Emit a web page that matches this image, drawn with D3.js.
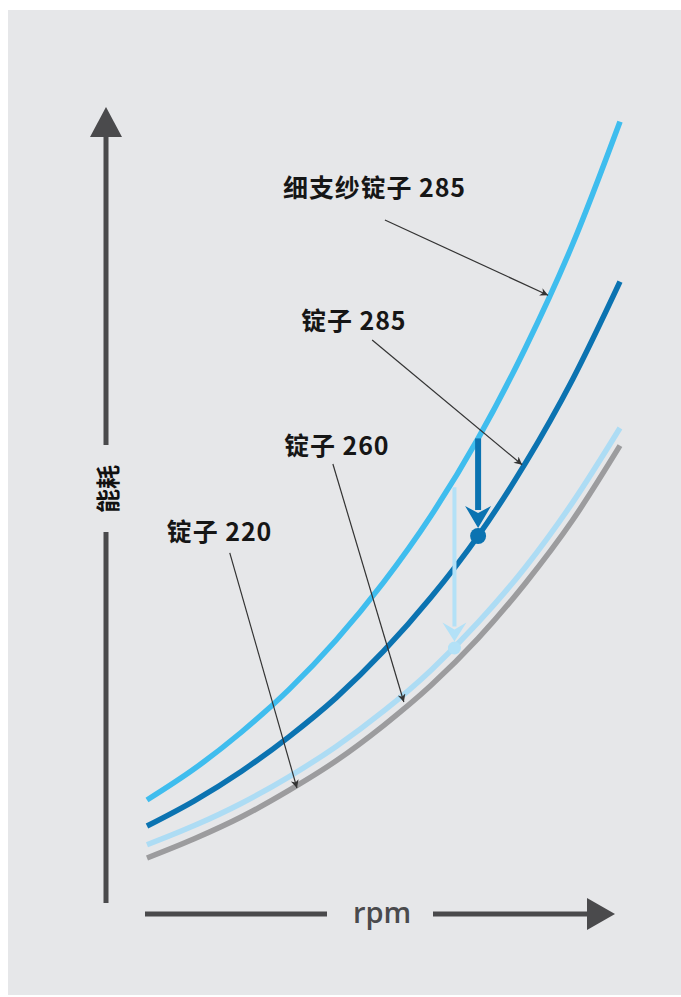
<!DOCTYPE html>
<html>
<head>
<meta charset="utf-8">
<script src="https://cdn.jsdelivr.net/npm/d3@7"></script>
<style>
  body { margin: 0; background: #fff; }
  svg { display: block; }
</style>
</head>
<body>
<div id="chart"></div>
<script>
// rpm samples (arbitrary units, no tick labels in the original)
const rpm = [0, 1, 2, 3, 4, 5, 6, 7, 8, 9, 10];

// energy use (arbitrary units)
const fineSpindle285 = [12.5, 16.4, 21.0, 26.3, 32.5, 39.7, 48.0, 57.7, 69.0, 82.0, 97.3];
const spindle285 = [9.25, 12.4, 16.1, 20.4, 25.3, 31.1, 37.8, 45.5, 54.6, 65.1, 77.3];
const spindle260 = [6.9, 9.3, 12.1, 15.4, 19.2, 23.6, 28.7, 34.7, 41.6, 49.7, 59.0];
const spindle220 = [5.25, 7.65, 10.4, 13.7, 17.4, 21.8, 26.8, 32.7, 39.6, 47.5, 56.8];

const seriesNames = ['细支纱锭子 285', '锭子 285', '锭子 260', '锭子 220'];
const seriesColors = ['#3fbdee', '#0b73b1', '#addcf4', '#9c9c9e'];

// label text position, leader start and leader tip, in [rpm, energy]
const labelAt = [[2.875, 87.9], [3.26, 71.25], [2.9, 55.6], [0.42, 44.9]];
const leaderFrom = [[5.03, 85.0], [4.76, 70.0], [3.93, 54.5], [1.75, 43.4]];
const leaderTo = [[8.48, 75.6], [7.93, 54.4], [5.43, 24.75], [3.17, 14.0]];

// drop arrows: rpm, energy from, energy to
const dropRpm = [6.5, 7.0];
const dropFrom = [51.6, 57.7];
const dropTo = [31.5, 45.5];
const dropColors = ['#b3e1f7', '#0b73b1'];

const width = 681;
const height = 997;

const svg = d3.select('#chart').append('svg')
  .attr('width', width)
  .attr('height', height);

svg.append('rect')
  .attr('x', 8).attr('y', 10)
  .attr('width', 673).attr('height', 985)
  .attr('fill', '#e6e7e9');

const xScale = d3.scaleLinear().domain([0, 10]).range([147, 620]);
const yScale = d3.scaleLinear().domain([0, 100]).range([900, 100]);

const defs = svg.append('defs');
defs.append('marker')
  .attr('id', 'tip')
  .attr('viewBox', '0 0 10 10')
  .attr('refX', 10).attr('refY', 5)
  .attr('markerWidth', 12).attr('markerHeight', 8)
  .attr('markerUnits', 'userSpaceOnUse')
  .attr('orient', 'auto')
  .append('path')
  .attr('d', 'M0,0 L10,5 L0,10 L3,5 Z')
  .attr('fill', '#333');

// axes
const axisColor = '#4a4a4c';
const ax = svg.append('g').attr('stroke', axisColor).attr('stroke-width', 5);
ax.append('line').attr('x1', 106).attr('x2', 106).attr('y1', 132).attr('y2', 445);
ax.append('line').attr('x1', 106).attr('x2', 106).attr('y1', 532).attr('y2', 903);
ax.append('line').attr('x1', 145).attr('x2', 327).attr('y1', 914).attr('y2', 914);
ax.append('line').attr('x1', 433).attr('x2', 592).attr('y1', 914).attr('y2', 914);
svg.append('path')
  .attr('d', 'M106,107 L122,137 L90,137 Z')
  .attr('fill', axisColor);
svg.append('path')
  .attr('d', 'M615,914 L587,898 L587,930 Z')
  .attr('fill', axisColor);

svg.append('text')
  .attr('transform', 'translate(106,489) rotate(-90)')
  .attr('text-anchor', 'middle')
  .attr('dominant-baseline', 'central')
  .attr('font-family', '"Noto Sans CJK SC", sans-serif')
  .attr('font-weight', 700)
  .attr('font-size', 24)
  .attr('fill', '#111')
  .text('能耗');

svg.append('text')
  .attr('x', 382).attr('y', 923)
  .attr('text-anchor', 'middle')
  .attr('font-family', '"Open Sans", sans-serif')
  .attr('font-weight', 600)
  .attr('font-size', 29)
  .attr('fill', axisColor)
  .text('rpm');

// curves
const series = [fineSpindle285, spindle285, spindle260, spindle220];
const line = d3.line()
  .x((d, i) => xScale(rpm[i]))
  .y((d) => yScale(d))
  .curve(d3.curveMonotoneX);

const drawOrder = [3, 2, 1, 0];
svg.append('g').selectAll('path')
  .data(drawOrder)
  .join('path')
  .attr('d', (k) => line(series[k]))
  .attr('fill', 'none')
  .attr('stroke', (k) => seriesColors[k])
  .attr('stroke-width', 5.5);

// drop arrows
dropRpm.forEach((r, i) => {
  const x = xScale(r);
  const y0 = yScale(dropFrom[i]);
  const y1 = yScale(dropTo[i]);
  const big = i === 1;
  const rad = big ? 8 : 6.5;
  const tipY = y1 - rad;
  const g = svg.append('g').attr('fill', dropColors[i]);
  const head = big ? 22 : 19;
  const half = big ? 13 : 12;
  g.append('line')
    .attr('x1', x).attr('x2', x)
    .attr('y1', y0).attr('y2', tipY - head + 4)
    .attr('stroke', dropColors[i])
    .attr('stroke-width', big ? 6 : 4);
  g.append('path')
    .attr('d', `M${x},${tipY} L${x - half},${tipY - head} L${x},${tipY - head + 7} L${x + half},${tipY - head} Z`);
  g.append('circle').attr('cx', x).attr('cy', y1).attr('r', rad);
});

// labels with leaders
const labels = svg.append('g');
seriesNames.forEach((name, i) => {
  labels.append('text')
    .attr('x', xScale(labelAt[i][0]))
    .attr('y', yScale(labelAt[i][1]))
    .attr('font-family', '"Noto Sans CJK SC", sans-serif')
    .attr('font-weight', 700)
    .attr('font-size', 25)
    .attr('letter-spacing', 0.9)
    .attr('fill', '#161616')
    .text(name);
  labels.append('line')
    .attr('x1', xScale(leaderFrom[i][0]))
    .attr('y1', yScale(leaderFrom[i][1]))
    .attr('x2', xScale(leaderTo[i][0]))
    .attr('y2', yScale(leaderTo[i][1]))
    .attr('stroke', '#333')
    .attr('stroke-width', 1.2)
    .attr('marker-end', 'url(#tip)');
});
</script>
</body>
</html>
